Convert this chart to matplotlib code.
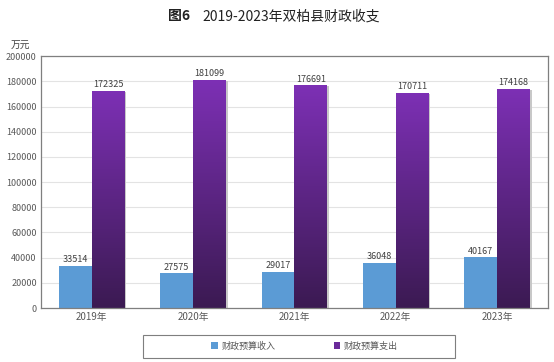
import numpy as np
import matplotlib.pyplot as plt
from matplotlib.colors import LinearSegmentedColormap
from matplotlib.patches import Rectangle

plt.rcParams['font.family'] = ['Noto Sans CJK SC', 'DejaVu Sans']

years = ['2019年', '2020年', '2021年', '2022年', '2023年']
income = [33514, 27575, 29017, 36048, 40167]
expense = [172325, 181099, 176691, 170711, 174168]
yticks = [0, 20000, 40000, 60000, 80000, 100000, 120000, 140000, 160000, 180000, 200000]

blue = '#5b9bd5'
purple_top = '#7d30b5'
purple_bot = '#3b1a52'

fig = plt.figure(figsize=(5.54, 3.62), dpi=100)
ax = fig.add_axes([0.074, 0.149, 0.915, 0.696])

x = np.arange(len(years))
w = 0.325

ax.set_xlim(-0.5, len(years) - 0.5)
ax.set_ylim(0, 200000)
ax.set_yticks(yticks)
ax.set_yticklabels([str(t) for t in yticks], fontsize=6.5, color='#595959')
ax.set_xticks(x)
ax.set_xticklabels(years, fontsize=7, color='#595959')
ax.tick_params(length=0, pad=3)
ax.grid(axis='y', color='#e3e3e3', linewidth=0.8)
ax.set_axisbelow(True)
for s in ax.spines.values():
    s.set_color('#7f7f7f')
    s.set_linewidth(0.9)

# shadows
for xi, v in zip(x, income):
    ax.add_patch(Rectangle((xi - w + 0.015, 0), w, v - 800, color='#c8c8c8', zorder=1.5, lw=0))
for xi, v in zip(x, expense):
    ax.add_patch(Rectangle((xi + 0.015, 0), w, v - 800, color='#c8c8c8', zorder=1.5, lw=0))

ax.bar(x - w / 2, income, w, color=blue, zorder=2, label='财政预算收入')
bars = ax.bar(x + w / 2, expense, w, color='#6a2a9a', zorder=2, label='财政预算支出')

cmap = LinearSegmentedColormap.from_list('pg', [purple_bot, purple_top])
grad = np.linspace(0, 1, 256).reshape(-1, 1)
for b in bars:
    x0, y0 = b.get_x(), b.get_y()
    im = ax.imshow(grad, cmap=cmap, origin='lower', aspect='auto',
                   extent=[x0, x0 + b.get_width(), y0, y0 + b.get_height()], zorder=2.1)
    im.set_clip_path(b)

for xi, v in zip(x, income):
    ax.text(xi - w / 2, v + 1200, str(v), ha='center', va='bottom', fontsize=6.5, color='#404040')
for xi, v in zip(x, expense):
    ax.text(xi + w / 2, v + 1200, str(v), ha='center', va='bottom', fontsize=6.5, color='#404040')

ax.set_xlim(-0.5, len(years) - 0.5)
ax.set_ylim(0, 200000)

fig.text(0.037, 0.875, '万元', fontsize=7, color='#404040', ha='center', va='center')
fig.text(0.343, 0.955, '图6', fontsize=10, fontweight='bold', ha='right', va='center', color='#222222')
fig.text(0.366, 0.955, '2019-2023年双柏县财政收支', fontsize=10, fontweight='medium',
         ha='left', va='center', color='#222222')

# legend box
fig.patches.append(Rectangle((0.258, 0.011), 0.563, 0.0635, transform=fig.transFigure,
                             fill=False, edgecolor='#7f7f7f', linewidth=0.8))
leg = fig.legend(loc='center', bbox_to_anchor=(0.55, 0.044), ncol=2, fontsize=6.5,
                 frameon=False, handlelength=0.7, handleheight=0.7, columnspacing=6.5,
                 handletextpad=0.4)
for t in leg.get_texts():
    t.set_color('#595959')

fig.savefig('out.png', dpi=100)
